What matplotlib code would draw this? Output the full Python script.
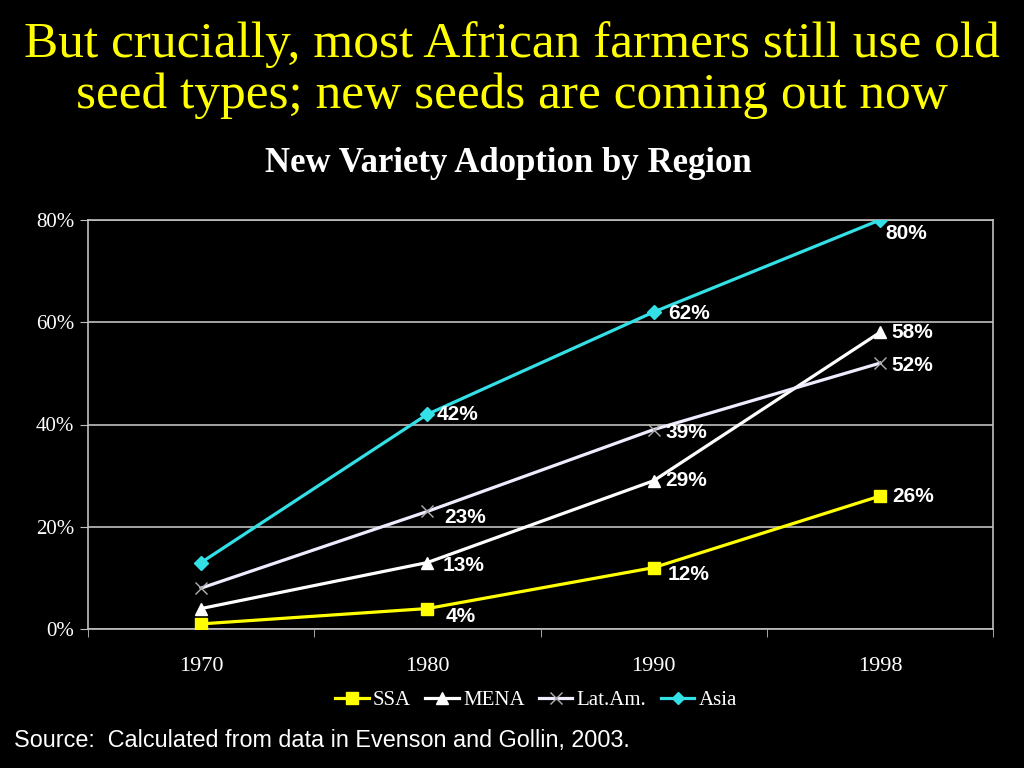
import numpy as np
import matplotlib
matplotlib.use('Agg')
import matplotlib.pyplot as plt

# Données du graphique
annees = ['1970', '1980', '1990', '1998']
ssa = [1, 4, 12, 26]
mena = [4, 13, 29, 58]
latam = [8, 23, 39, 52]
asie = [13, 42, 62, 80]
y_ticks = [0, 20, 40, 60, 80]

serif = ['Liberation Serif', 'DejaVu Serif']
sans = ['Liberation Sans', 'DejaVu Sans']

fig = plt.figure(figsize=(10.24, 7.68), dpi=100, facecolor='black')
ax = fig.add_axes([88/1024, 1-629/768, (993-88)/1024, (629-220)/768])
ax.set_facecolor('black')

x = np.arange(len(annees))
ax.plot(x, ssa, color='#ffff00', lw=2.3, marker='s', ms=9, label='SSA', zorder=3)
ax.plot(x, mena, color='white', lw=2.3, marker='^', ms=9, label='MENA', zorder=3)
ax.plot(x, latam, color='#f0ecff', lw=2.3, marker='x', ms=9, mew=1, mec='#b0b0b0',
        label='Lat.Am.', zorder=3)
ax.plot(x, asie, color='#33e0e6', lw=2.3, marker='D', ms=7, label='Asia', zorder=3)

# Étiquettes des valeurs (décalage en pixels)
decalages = {
    'ssa': [None, (18, -8), (14, -7), (12, 0)],
    'mena': [None, (15, -3), (12, 0), (12, 0)],
    'latam': [None, (17, -6), (12, -3), (12, -2)],
    'asie': [None, (9, 0), (15, -1), (6, -14)],
}
for nom, serie in [('ssa', ssa), ('mena', mena), ('latam', latam), ('asie', asie)]:
    for i, v in enumerate(serie):
        d = decalages[nom][i]
        if d is None:
            continue
        ax.annotate(f'{v}%', (x[i], v), xytext=d, textcoords='offset pixels',
                    ha='left', va='center', color='white', fontsize=15,
                    fontweight='bold', family=sans, zorder=4)

ax.set_xlim(-0.5, len(annees) - 0.5)
ax.set_ylim(0, 80)
ax.set_yticks(y_ticks)
ax.set_yticklabels([f'{t}%' for t in y_ticks], family=serif, fontsize=15, color='white')
ax.yaxis.grid(True, color='#c0c0c0', lw=1.2)
ax.set_axisbelow(True)
ax.tick_params(axis='y', length=6, color='#c0c0c0', pad=4)

ax.set_xticks(x)
ax.set_xticklabels(annees, family=serif, fontsize=16, color='white')
ax.set_xticks(np.arange(-0.5, len(annees)), minor=True)
ax.tick_params(axis='x', which='major', length=0, pad=20)
ax.tick_params(axis='x', which='minor', length=6, color='#c0c0c0', direction='out')

for s in ax.spines.values():
    s.set_color('#c0c0c0')
    s.set_linewidth(1.2)

# Titres
fig.text(0.5, 1-45/768, 'But crucially, most African farmers still use old',
         ha='center', va='center', color='#ffff00', fontsize=37, family=serif)
fig.text(0.5, 1-96/768, 'seed types; new seeds are coming out now',
         ha='center', va='center', color='#ffff00', fontsize=37, family=serif)
fig.text(508/1024, 1-163/768, 'New Variety Adoption by Region', ha='center', va='center',
         color='white', fontsize=25, fontweight='bold', family=serif)

fig.legend(loc='center', bbox_to_anchor=(536/1024, 1-700/768), ncol=4, frameon=False,
           prop={'family': serif, 'size': 15}, labelcolor='white', handlelength=1.6,
           handletextpad=0.2, columnspacing=0.7, markerscale=0.9)

fig.text(14/1024, 1-740/768, 'Source:  Calculated from data in Evenson and Gollin, 2003.',
         ha='left', va='center', color='white', fontsize=16.8, family=sans)

plt.savefig('out.png', dpi=100, facecolor='black')
